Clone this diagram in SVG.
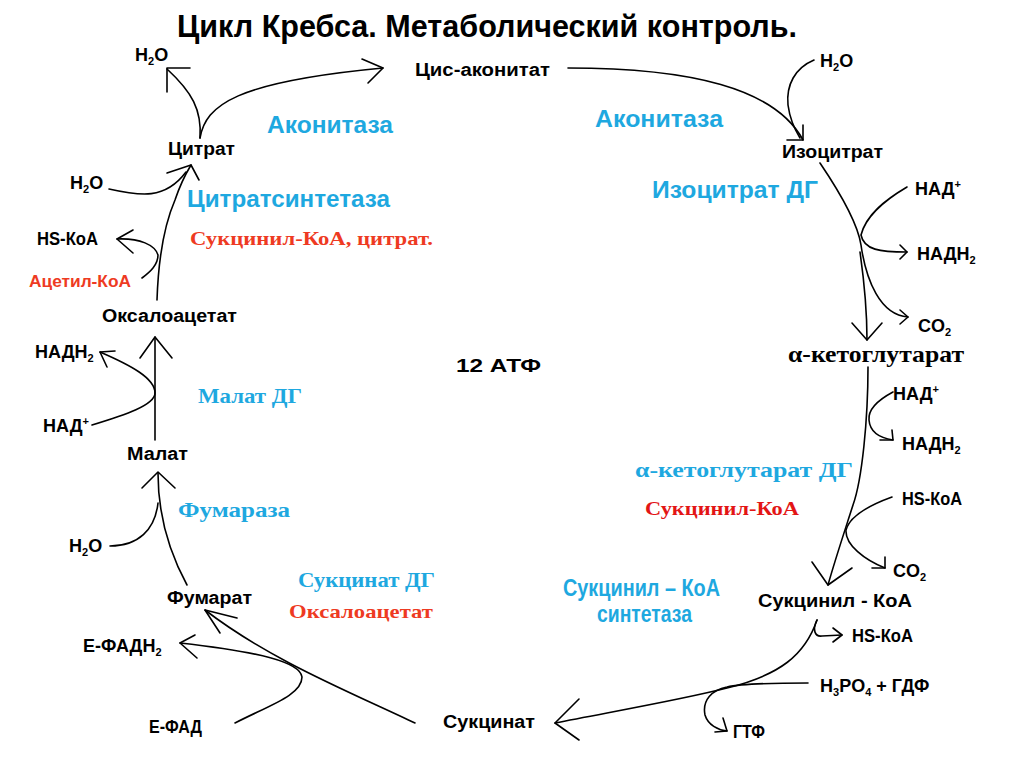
<svg xmlns="http://www.w3.org/2000/svg" width="1024" height="767" viewBox="0 0 1024 767">
<style>
.l{font-family:"Liberation Sans",Arial,sans-serif;font-weight:bold;font-size:18px;fill:#000}
.s{font-size:11px}
.b{font-family:"Liberation Sans",Arial,sans-serif;font-weight:bold;font-size:23px;fill:#1ea8e0}
.bs{font-family:"Liberation Serif","Times New Roman",serif;font-weight:bold;font-size:21px;fill:#1ea8e0}
.rs{font-family:"Liberation Serif","Times New Roman",serif;font-weight:bold;font-size:19px;fill:#ee3a22}
.r{font-family:"Liberation Sans",Arial,sans-serif;font-weight:bold;font-size:16px;fill:#ee3a22}
.ks{font-family:"Liberation Serif","Times New Roman",serif;font-weight:bold;font-size:24px;fill:#000}
.c path{fill:none;stroke:#000;stroke-width:1.6;stroke-linecap:round;stroke-linejoin:round}
</style>
<rect width="1024" height="767" fill="#fff"/>
<text x="177" y="37" font-family="Liberation Sans,Arial,sans-serif" font-weight="bold" font-size="32" textLength="620" lengthAdjust="spacingAndGlyphs">Цикл Кребса. Метаболический контроль.</text>

<g class="c" id="connectors">
<path d="M200,138 C206,105 235,82 383,68"/><path d="M362,59 L383,68 L368,83"/>
<path d="M200,138 C202,110 192,92 167,69"/><path d="M190,68 L167,68 L167,92"/>
<path d="M568,68 C690,68 775,88 803,140"/><path d="M787,140 L803,140 L803,125"/>
<path d="M814,60 C795,68 786,85 788,105 C790,120 795,130 800,138"/>
<path d="M820,163 C845,200 858,225 861,245 C866,280 880,315 908,317"/><path d="M900,310 L908,317 L900,324"/>
<path d="M860,252 C864,280 867,310 867,340"/><path d="M852,323 L867,340 L882,323"/>
<path d="M907,187 C885,200 866,215 861,235 C864,250 880,252 907,252"/><path d="M900,245 L907,252 L900,259"/>
<path d="M868,367 C868,420 862,480 853,505 C845,530 835,560 828,585"/><path d="M812,562 L828,585 L852,568"/>
<path d="M893,392 C878,400 868,410 869,420 C870,432 880,438 893,440"/><path d="M880,440 L893,440 L892,430"/>
<path d="M892,497 C870,505 850,515 846,530 C845,545 865,560 885,568"/><path d="M872,568 L885,568 L885,557"/>
<path d="M817,620 C805,655 780,675 727,688 C680,700 610,712 555,723"/><path d="M579,699 L555,723 L579,740"/>
<path d="M817,620 C812,630 815,637 822,636 L842,635"/><path d="M833,628 L842,635 L833,642"/>
<path d="M808,683 C770,683 740,684 727,687 C712,690 702,700 705,715 C708,725 718,730 727,731"/><path d="M715,732 L727,731 L723,718"/>
<path d="M415,723 C350,692 270,660 205,610"/><path d="M237,618 L205,610 L220,633"/>
<path d="M235,723 C270,705 302,695 302,677 C300,662 260,652 180,643"/><path d="M195,635 L180,643 L197,658"/>
<path d="M187,585 C168,550 158,515 158,473"/><path d="M142,488 L158,472 L175,488"/>
<path d="M110,546 C138,546 155,530 158,503"/>
<path d="M155,440 L155,337"/><path d="M140,358 L155,337 L172,358"/>
<path d="M92,425 C125,415 155,405 155,393 C155,378 130,365 100,352"/><path d="M115,351 L100,352 L107,367"/>
<path d="M157,300 C158,270 162,230 175,200 C180,185 185,175 191,165"/><path d="M167,173 L191,165 L199,180"/>
<path d="M109,189 C140,196 165,200 186,172"/>
<path d="M142,278 C150,272 158,265 158,255 C155,245 140,238 117,239"/><path d="M133,230 L117,239 L133,253"/>
</g>

<g id="citrate"><text class="l" x="168" y="155" textLength="67" lengthAdjust="spacingAndGlyphs">Цитрат</text></g>
<g id="cis-aconitate"><text class="l" x="415" y="76" textLength="135" lengthAdjust="spacingAndGlyphs">Цис-аконитат</text></g>
<g id="isocitrate"><text class="l" x="782" y="158" textLength="101" lengthAdjust="spacingAndGlyphs">Изоцитрат</text></g>
<g id="akg"><text class="ks" x="788" y="362" textLength="176" lengthAdjust="spacingAndGlyphs">α-кетоглутарат</text></g>
<g id="succinyl-coa"><text class="l" x="758" y="607" textLength="154" lengthAdjust="spacingAndGlyphs">Сукцинил - КоА</text></g>
<g id="succinate"><text class="l" x="443" y="728" textLength="92" lengthAdjust="spacingAndGlyphs">Сукцинат</text></g>
<g id="fumarate"><text class="l" x="167" y="604" textLength="85" lengthAdjust="spacingAndGlyphs">Фумарат</text></g>
<g id="malate"><text class="l" x="127" y="460" textLength="61" lengthAdjust="spacingAndGlyphs">Малат</text></g>
<g id="oxaloacetate"><text class="l" x="102" y="322" textLength="135" lengthAdjust="spacingAndGlyphs">Оксалоацетат</text></g>
<g id="atp"><text class="l" x="456" y="372" font-size="22" textLength="85" lengthAdjust="spacingAndGlyphs">12 АТФ</text></g>

<g id="cofactors">
<text class="l" x="135" y="61" font-size="16">H<tspan class="s" dy="4">2</tspan><tspan dy="-4">O</tspan></text>
<text class="l" x="820" y="67" font-size="16">H<tspan class="s" dy="4">2</tspan><tspan dy="-4">O</tspan></text>
<text class="l" x="70" y="189" font-size="16">H<tspan class="s" dy="4">2</tspan><tspan dy="-4">O</tspan></text>
<text class="l" x="69" y="552" font-size="16">H<tspan class="s" dy="4">2</tspan><tspan dy="-4">O</tspan></text>
<text class="l" x="915" y="195" font-size="16">НАД<tspan class="s" dy="-7">+</tspan></text>
<text class="l" x="893" y="400" font-size="16">НАД<tspan class="s" dy="-7">+</tspan></text>
<text class="l" x="43" y="432" font-size="16">НАД<tspan class="s" dy="-7">+</tspan></text>
<text class="l" x="917" y="260" font-size="16">НАДН<tspan class="s" dy="4">2</tspan></text>
<text class="l" x="902" y="450" font-size="16">НАДН<tspan class="s" dy="4">2</tspan></text>
<text class="l" x="35" y="358" font-size="16">НАДН<tspan class="s" dy="4">2</tspan></text>
<text class="l" x="918" y="332" font-size="16">CO<tspan class="s" dy="4">2</tspan></text>
<text class="l" x="893" y="577" font-size="16">CO<tspan class="s" dy="4">2</tspan></text>
<text class="l" x="37" y="245" font-size="16" textLength="61" lengthAdjust="spacingAndGlyphs">HS-КоА</text>
<text class="l" x="902" y="505" font-size="16" textLength="60" lengthAdjust="spacingAndGlyphs">HS-КоА</text>
<text class="l" x="852" y="642" font-size="16" textLength="61" lengthAdjust="spacingAndGlyphs">HS-КоА</text>
<text class="r" x="29" y="287" font-size="16" textLength="102" lengthAdjust="spacingAndGlyphs">Ацетил-КоА</text>
<text class="l" x="83" y="652" font-size="16">Е-ФАДН<tspan class="s" dy="4">2</tspan></text>
<text class="l" x="149" y="733" font-size="16" textLength="53" lengthAdjust="spacingAndGlyphs">Е-ФАД</text>
<text class="l" x="820" y="692" font-size="16">H<tspan class="s" dy="4">3</tspan><tspan dy="-4">PO</tspan><tspan class="s" dy="4">4</tspan><tspan dy="-4"> + ГДФ</tspan></text>
<text class="l" x="733" y="738" font-size="16" textLength="32" lengthAdjust="spacingAndGlyphs">ГТФ</text>
</g>

<g id="enzymes">
<text class="b" x="267" y="133" textLength="126" lengthAdjust="spacingAndGlyphs">Аконитаза</text>
<text class="b" x="595" y="127" textLength="128" lengthAdjust="spacingAndGlyphs">Аконитаза</text>
<text class="b" x="187" y="207" textLength="203" lengthAdjust="spacingAndGlyphs">Цитратсинтетаза</text>
<text class="b" x="652" y="198" textLength="166" lengthAdjust="spacingAndGlyphs">Изоцитрат ДГ</text>
<text class="b" x="563" y="596" font-size="19" textLength="157" lengthAdjust="spacingAndGlyphs">Сукцинил – КоА</text>
<text class="b" x="597" y="622" font-size="19" textLength="95" lengthAdjust="spacingAndGlyphs">синтетаза</text>
<text class="bs" x="198" y="403" font-size="20" textLength="104" lengthAdjust="spacingAndGlyphs">Малат ДГ</text>
<text class="bs" x="635" y="477" font-size="22" textLength="218" lengthAdjust="spacingAndGlyphs">α-кетоглутарат ДГ</text>
<text class="bs" x="178" y="517" textLength="112" lengthAdjust="spacingAndGlyphs">Фумараза</text>
<text class="bs" x="298" y="587" font-size="20" textLength="137" lengthAdjust="spacingAndGlyphs">Сукцинат ДГ</text>
<text class="rs" x="190" y="245" font-size="18" textLength="243" lengthAdjust="spacingAndGlyphs">Сукцинил-КоА, цитрат.</text>
<text class="rs" x="645" y="515" style="fill:#e31515" textLength="154" lengthAdjust="spacingAndGlyphs">Сукцинил-КоА</text>
<text class="rs" x="289" y="618" textLength="144" lengthAdjust="spacingAndGlyphs">Оксалоацетат</text>
</g>
</svg>
